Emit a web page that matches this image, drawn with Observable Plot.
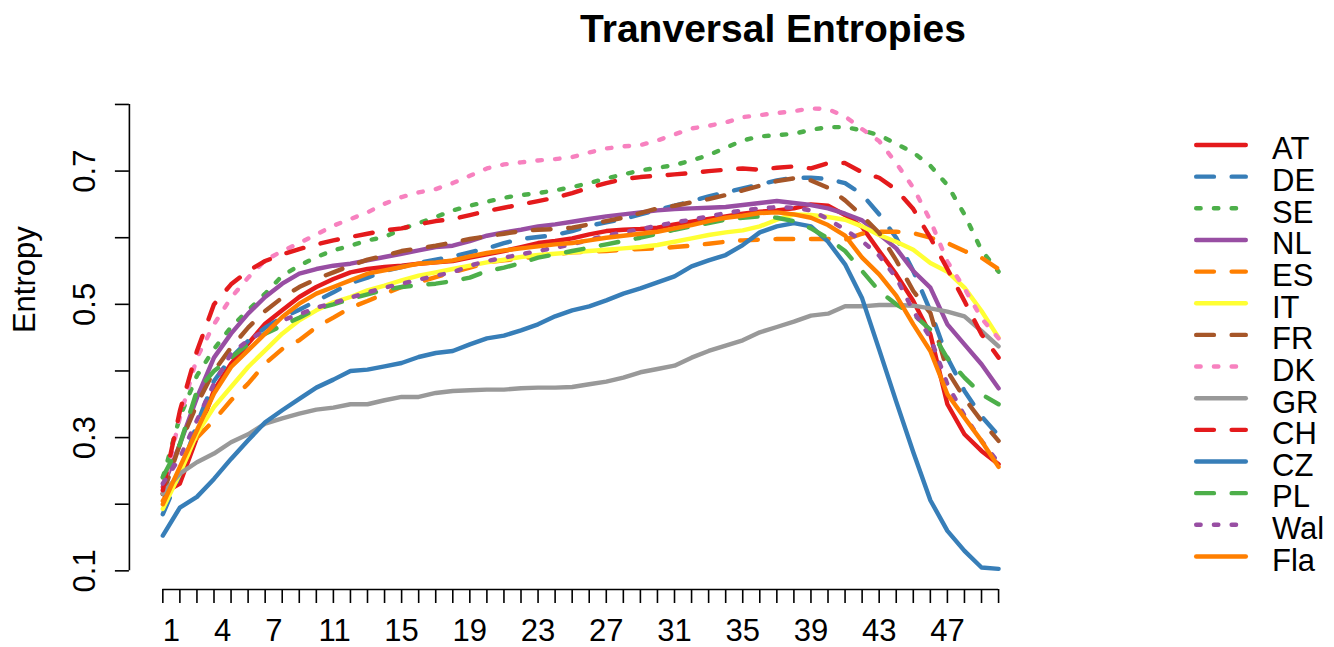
<!DOCTYPE html>
<html><head><meta charset="utf-8">
<script src="https://cdn.jsdelivr.net/npm/d3@7"></script>
<script src="https://cdn.jsdelivr.net/npm/@observablehq/plot@0.6"></script>
<style>
body{margin:0;background:#fff;}
#wrap{position:relative;width:1334px;height:647px;overflow:hidden;background:#fff;font-family:"Liberation Sans",Arial,sans-serif;}
#title{position:absolute;left:273px;top:8.7px;width:1000px;text-align:center;font-weight:bold;font-size:39px;line-height:39px;color:#000;}
#chart{position:absolute;left:0;top:60px;}
#legend{position:absolute;left:1180px;top:120px;}
</style></head><body>
<div id="wrap"><div id="title">Tranversal Entropies</div><div id="chart"></div><div id="legend"></div></div>
<script>
// ---- data ----
const names = ["AT","DE","SE","NL","ES","IT","FR","DK","GR","CH","CZ","PL","Wal","Fla"];
const colors = ["#E41A1C","#377EB8","#4DAF4A","#984EA3","#FF7F00","#FFFF33","#A65628","#F781BF","#999999","#E41A1C","#377EB8","#4DAF4A","#984EA3","#FF7F00"];
const ltys = ["solid","dashed","dotted","solid","dashed","solid","dashed","dotted","solid","dashed","solid","dashed","dotted","solid"];

const AT = [0.216,0.231,0.300,0.371,0.411,0.441,0.471,0.491,0.511,0.526, 0.538,0.548,0.553,0.556,0.558,0.561,0.563,0.565,0.570,0.575, 0.580,0.586,0.592,0.595,0.599,0.605,0.610,0.612,0.613,0.615, 0.620,0.624,0.628,0.632,0.636,0.639,0.641,0.644,0.650,0.648, 0.634,0.616,0.580,0.545,0.505,0.455,0.350,0.305,0.280,0.260];
const DE = [0.185,0.245,0.320,0.385,0.420,0.445,0.465,0.480,0.492,0.505, 0.518,0.532,0.540,0.550,0.556,0.562,0.567,0.572,0.578,0.584, 0.592,0.598,0.601,0.604,0.610,0.618,0.623,0.628,0.635,0.642, 0.648,0.655,0.662,0.668,0.674,0.680,0.686,0.690,0.690,0.688, 0.682,0.665,0.635,0.600,0.550,0.490,0.420,0.370,0.332,0.303];
const SE = [0.240,0.331,0.393,0.433,0.466,0.491,0.516,0.543,0.558,0.571, 0.581,0.588,0.596,0.601,0.613,0.622,0.631,0.641,0.648,0.654, 0.660,0.664,0.667,0.671,0.676,0.682,0.689,0.695,0.701,0.705, 0.709,0.716,0.724,0.735,0.746,0.752,0.754,0.756,0.762,0.766, 0.766,0.761,0.754,0.741,0.728,0.708,0.679,0.635,0.581,0.549];
const NL = [0.226,0.290,0.360,0.420,0.456,0.486,0.511,0.531,0.546,0.553, 0.558,0.561,0.566,0.571,0.576,0.581,0.586,0.588,0.595,0.603, 0.608,0.612,0.617,0.620,0.624,0.628,0.632,0.635,0.638,0.641, 0.643,0.644,0.645,0.646,0.649,0.652,0.655,0.652,0.649,0.644, 0.636,0.626,0.605,0.584,0.550,0.525,0.470,0.440,0.410,0.374];
const ES = [0.205,0.250,0.300,0.326,0.356,0.381,0.411,0.433,0.446,0.466, 0.480,0.495,0.505,0.516,0.526,0.533,0.541,0.548,0.555,0.563, 0.566,0.569,0.572,0.575,0.578,0.579,0.580,0.582,0.583,0.584, 0.586,0.588,0.591,0.594,0.596,0.597,0.598,0.598,0.598,0.598, 0.597,0.606,0.609,0.609,0.607,0.600,0.592,0.580,0.570,0.553];
const IT = [0.193,0.246,0.306,0.346,0.376,0.406,0.431,0.456,0.476,0.491, 0.503,0.511,0.521,0.528,0.536,0.543,0.548,0.553,0.558,0.563, 0.567,0.571,0.574,0.576,0.578,0.580,0.582,0.584,0.586,0.589, 0.594,0.599,0.604,0.608,0.611,0.617,0.627,0.635,0.634,0.631, 0.627,0.617,0.604,0.594,0.582,0.562,0.549,0.525,0.490,0.450];
const FR = [0.215,0.290,0.350,0.400,0.435,0.465,0.490,0.510,0.526,0.538, 0.548,0.558,0.567,0.573,0.580,0.584,0.588,0.593,0.598,0.602, 0.606,0.610,0.612,0.613,0.615,0.620,0.625,0.630,0.637,0.644, 0.648,0.653,0.658,0.664,0.671,0.678,0.685,0.689,0.686,0.675, 0.656,0.633,0.607,0.566,0.520,0.487,0.400,0.359,0.325,0.295];
const DK = [0.220,0.330,0.420,0.470,0.510,0.540,0.566,0.580,0.592,0.605, 0.618,0.628,0.638,0.651,0.661,0.668,0.673,0.682,0.693,0.704, 0.710,0.713,0.716,0.718,0.721,0.728,0.734,0.737,0.739,0.746, 0.755,0.764,0.768,0.773,0.781,0.784,0.787,0.790,0.794,0.793, 0.782,0.763,0.745,0.712,0.675,0.626,0.564,0.524,0.479,0.449];
const GR = [0.216,0.246,0.263,0.276,0.293,0.305,0.321,0.329,0.336,0.342, 0.345,0.350,0.350,0.356,0.361,0.361,0.367,0.370,0.371,0.372, 0.372,0.374,0.375,0.375,0.376,0.380,0.384,0.390,0.398,0.403, 0.408,0.420,0.430,0.438,0.446,0.458,0.466,0.474,0.483,0.486, 0.497,0.497,0.499,0.499,0.498,0.494,0.489,0.482,0.460,0.437];
const CH = [0.221,0.340,0.430,0.500,0.530,0.550,0.565,0.575,0.583,0.590, 0.596,0.601,0.606,0.611,0.614,0.620,0.625,0.628,0.634,0.640, 0.645,0.650,0.655,0.660,0.667,0.675,0.682,0.688,0.691,0.693, 0.695,0.697,0.700,0.702,0.704,0.702,0.705,0.707,0.704,0.712, 0.712,0.698,0.690,0.672,0.643,0.600,0.553,0.505,0.455,0.420];
const CZ = [0.153,0.195,0.211,0.238,0.268,0.296,0.323,0.341,0.358,0.375, 0.387,0.400,0.402,0.407,0.412,0.421,0.427,0.430,0.440,0.449, 0.453,0.461,0.470,0.482,0.491,0.497,0.506,0.516,0.524,0.533, 0.542,0.557,0.566,0.574,0.589,0.608,0.617,0.622,0.617,0.594, 0.560,0.509,0.432,0.354,0.278,0.206,0.160,0.130,0.105,0.103];
const PL = [0.241,0.290,0.370,0.400,0.420,0.440,0.456,0.468,0.480,0.493, 0.500,0.508,0.515,0.522,0.526,0.529,0.531,0.535,0.540,0.550, 0.555,0.562,0.570,0.575,0.580,0.585,0.590,0.595,0.600,0.606, 0.612,0.617,0.622,0.627,0.630,0.632,0.630,0.625,0.614,0.599, 0.580,0.550,0.520,0.500,0.485,0.462,0.419,0.390,0.365,0.350];
const Wal = [0.231,0.270,0.326,0.381,0.426,0.446,0.461,0.476,0.485,0.495, 0.502,0.510,0.518,0.525,0.531,0.537,0.543,0.548,0.558,0.565, 0.570,0.575,0.580,0.585,0.590,0.597,0.603,0.608,0.613,0.618, 0.623,0.627,0.632,0.637,0.641,0.644,0.646,0.645,0.641,0.628, 0.612,0.595,0.573,0.540,0.490,0.450,0.380,0.333,0.295,0.262];
const Fla = [0.200,0.256,0.311,0.366,0.406,0.431,0.456,0.481,0.501,0.516, 0.526,0.536,0.546,0.551,0.556,0.561,0.563,0.566,0.572,0.577, 0.581,0.584,0.587,0.590,0.592,0.596,0.600,0.603,0.606,0.609, 0.614,0.619,0.625,0.630,0.633,0.637,0.638,0.635,0.630,0.619, 0.603,0.570,0.545,0.513,0.470,0.430,0.365,0.330,0.295,0.256];

const series = [AT,DE,SE,NL,ES,IT,FR,DK,GR,CH,CZ,PL,Wal,Fla];
const steps = d3.range(1, 51);                 // x positions 1..50
const xTicks = steps;                          // one tick per step
const xLabels = [1,4,7,11,15,19,23,27,31,35,39,43,47];
const yTicks = [0.1,0.2,0.3,0.4,0.5,0.6,0.7,0.8];
const yLabels = [0.1,0.3,0.5,0.7];
const yLim = [0.072, 0.822];

// ---- layout ----
const W = 1334, H = 587, mL = 128.9, mR = 302.5, mT = 29.3, mB = 58;
const FS = 31;
const lwd = 4.43;
const dashFor = {solid: null, dashed: `${4*lwd} ${4*lwd}`, dotted: `${lwd} ${3*lwd}`};
const n = steps.length;
const xLim = [steps[0] - 0.04*(steps[n-1]-steps[0]), steps[n-1] + 0.04*(steps[n-1]-steps[0])];
const pxX = (W - mL - mR) / (xLim[1] - xLim[0]);
const pxY = (H - mT - mB) / (yLim[1] - yLim[0]);
const tickLen = 14;
const axisStroke = {stroke: "#000", strokeWidth: 1.6};

const marks = [];
series.forEach((vals, k) => {
  const opt = {x: (d, i) => steps[i], y: d => d, stroke: colors[k], strokeWidth: lwd,
               strokeLinecap: "round", strokeLinejoin: "round"};
  if (dashFor[ltys[k]]) opt.strokeDasharray = dashFor[ltys[k]];
  marks.push(Plot.line(vals, opt));
});
// x axis
marks.push(Plot.ruleY([yLim[0]], {x1: xTicks[0], x2: xTicks[xTicks.length-1], ...axisStroke}));
marks.push(Plot.ruleX(xTicks, {x: d => d, y1: yLim[0], y2: yLim[0] - tickLen/pxY, ...axisStroke}));
marks.push(Plot.text(xLabels, {x: d => d, y: yLim[0], text: d => String(d), textAnchor: "end",
  dx: 0.556*FS, dy: 51, lineAnchor: "bottom", fontSize: FS, fill: "#000"}));
// y axis
marks.push(Plot.ruleX([xLim[0]], {y1: yTicks[0], y2: yTicks[yTicks.length-1], ...axisStroke}));
marks.push(Plot.ruleY(yTicks, {y: d => d, x1: xLim[0], x2: xLim[0] - tickLen/pxX, ...axisStroke}));
marks.push(Plot.text(yLabels, {x: xLim[0], y: d => d, text: d => d.toFixed(1), rotate: -90,
  textAnchor: "middle", lineAnchor: "bottom", dx: -34.6, fontSize: FS, fill: "#000"}));
marks.push(Plot.text(["Entropy"], {frameAnchor: "left", text: d => d, rotate: -90,
  textAnchor: "middle", lineAnchor: "bottom", dx: -93.9, dy: -60, fontSize: FS, fill: "#000"}));

const chart = Plot.plot({
  width: W, height: H,
  marginLeft: mL, marginRight: mR, marginTop: mT, marginBottom: mB,
  x: {domain: xLim, axis: null},
  y: {domain: yLim, axis: null},
  style: {fontFamily: '"Liberation Sans", Arial, sans-serif', fontSize: FS + "px", background: "#fff", color: "#000", overflow: "visible"},
  marks
});
document.getElementById("chart").appendChild(chart);

// ---- legend ----
const rowH = 31.65;
const leg = d3.create("svg").attr("width", 154).attr("height", 470)
  .style("font-family", '"Liberation Sans", Arial, sans-serif').style("overflow", "visible");
names.forEach((nm, k) => {
  const y = 25 + k*rowH;
  const ln = leg.append("line").attr("x1", 16.2).attr("x2", 65.8).attr("y1", y).attr("y2", y)
    .attr("stroke", colors[k]).attr("stroke-width", lwd).attr("stroke-linecap", "round");
  if (dashFor[ltys[k]]) ln.attr("stroke-dasharray", dashFor[ltys[k]]);
  leg.append("text").attr("x", 92).attr("y", y + 14.3).attr("font-size", FS).attr("fill", "#000").text(nm);
});
document.getElementById("legend").appendChild(leg.node());
</script>
</body></html>
